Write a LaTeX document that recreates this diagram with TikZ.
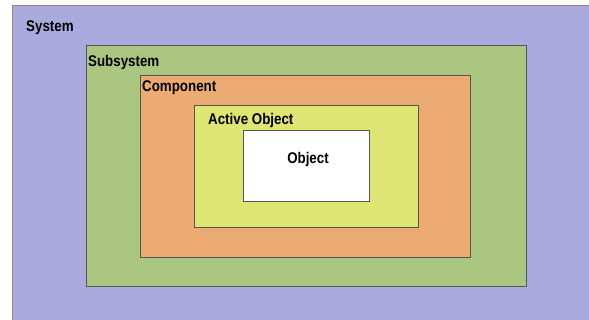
\documentclass[tikz,border=0pt]{standalone}
\usepackage{fontspec}
\setmainfont{Liberation Sans}[FakeStretch=0.86]
\definecolor{cSys}{RGB}{170,170,222}
\definecolor{cSub}{RGB}{171,198,128}
\definecolor{cComp}{RGB}{236,171,115}
\definecolor{cAct}{RGB}{223,229,115}
\definecolor{cEdge}{RGB}{85,85,85}
\begin{document}
\begin{tikzpicture}[x=1pt,y=-1pt,
  box/.style={draw=cEdge, line width=1pt, inner sep=0pt, anchor=north west},
  lbl/.style={font=\bfseries\fontsize{15.5}{17}\selectfont, inner sep=0pt, anchor=west}]
\useasboundingbox (0,0) rectangle (589,320);
\fill[white] (0,0) rectangle (589,320);
\node[box, fill=cSys, minimum width=590, minimum height=320, draw=cEdge!70] (sys) at (12,5) {};
\node[box, fill=cSub, minimum width=440, minimum height=241] (sub) at (86,45) {};
\node[box, fill=cComp, minimum width=330, minimum height=182] (comp) at (140,75) {};
\node[box, fill=cAct, minimum width=224, minimum height=122] (act) at (194,105) {};
\node[box, fill=white, minimum width=126, minimum height=71] (obj) at (243,130) {};
\node[lbl] (tsys) at (26,28) {System};
\node[lbl] (tsub) at (88,62) {Subsystem};
\node[lbl] (tcomp) at (142,88) {Component};
\node[lbl] (tact) at (208,120) {Active Object};
\node[lbl, anchor=center] (tobj) at (308,159) {Object};
\end{tikzpicture}
\end{document}
